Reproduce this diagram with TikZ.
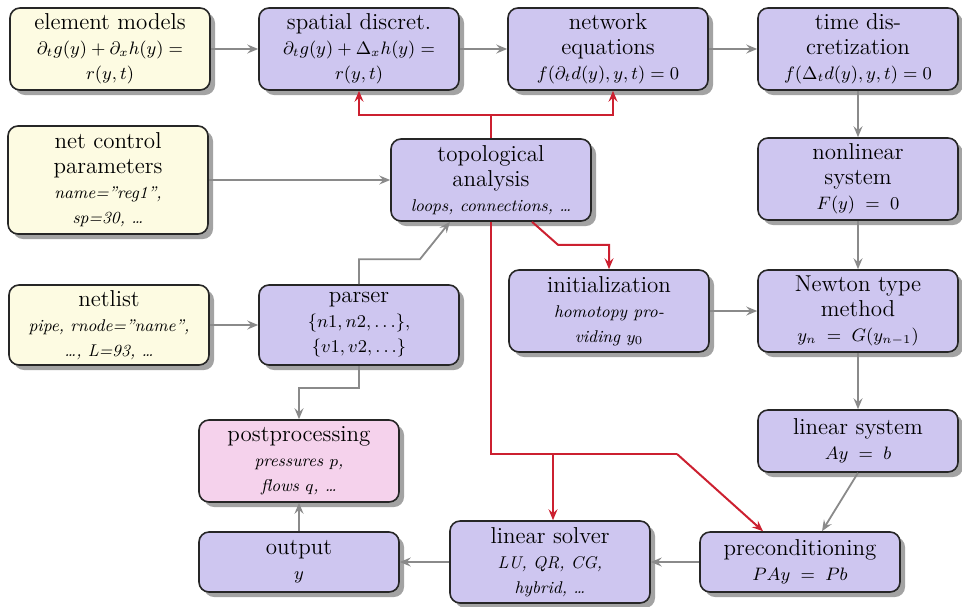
\documentclass[tikz,border=0pt]{standalone}
\usetikzlibrary{arrows.meta,shadows}
\definecolor{inyellow}{RGB}{253,251,226}
\definecolor{boxlilac}{RGB}{206,198,240}
\definecolor{boxpink}{RGB}{245,210,236}
\definecolor{flowred}{RGB}{204,32,48}
\definecolor{flowgray}{RGB}{138,138,138}
\newcommand{\mline}[1]{{\fontsize{9}{12.5}\selectfont$#1$}}
\newcommand{\iline}[1]{{\fontsize{8.5}{12.5}\selectfont\itshape #1}}
\tikzset{
  box/.style={draw=black!85, line width=0.8pt, rounded corners=5pt, align=center,
    minimum width=100pt, minimum height=41pt, inner sep=2pt,
    font=\fontsize{11.5}{12.5}\selectfont,
    drop shadow={shadow xshift=2.5pt, shadow yshift=-2.5pt, fill=black!45, opacity=0.8}},
  inbox/.style={box, fill=inyellow},
  stepbox/.style={box, fill=boxlilac},
  outbox/.style={box, fill=boxpink},
  tip/.style={-{Stealth[length=5.5pt,width=4.5pt,inset=2pt]}}
}
\begin{document}
\begin{tikzpicture}[x=0.5pt, y=-0.5pt]
      \useasboundingbox (0,0) rectangle (962,606);
      \path
        (110,49) node[inbox] (elem) {element models\\ \mline{\partial_t g(y) + \partial_x h(y) =}\\ \mline{r(y,t)}}
        (359,49) node[stepbox] (spatial) {spatial discret.\\ \mline{\partial_t g(y) + \Delta_x h(y) =}\\ \mline{r(y,t)}}
        (608,49) node[stepbox] (network) {network\\ equations\\ \mline{f(\partial_t d(y), y, t) = 0}}
        (858,49) node[stepbox] (time) {time dis-\\ cretization\\ \mline{f(\Delta_t d(y), y, t) = 0}}
        (108,180) node[inbox, minimum height=54pt] (netctrl) {net control\\ parameters\\ \iline{name="reg1",}\\ \iline{sp=30, \dots}}
        (491,180) node[stepbox] (topo) {topological\\ analysis\\ \iline{loops, connections, \dots}}
        (858,179) node[stepbox] (nonlin) {nonlinear\\ system\\ \mline{F(y) \;=\; 0}}
        (109,325) node[inbox, minimum height=40pt] (netlist) {netlist\\ \iline{pipe, rnode="name",}\\ \iline{\dots, L=93, \dots}}
        (359,325) node[stepbox, minimum height=40pt] (parser) {parser\\ \mline{\{n1, n2, \dots\},}\\ \mline{\{v1, v2, \dots\}}}
        (609,311) node[stepbox] (init) {initialization\\ \iline{homotopy pro-}\\ \iline{viding $y_0$}}
        (858,311) node[stepbox] (newton) {Newton type\\ method\\ \mline{y_n \;=\; G(y_{n-1})}}
        (858,441) node[stepbox, minimum height=31pt] (linsys) {linear system\\ \mline{Ay \;=\; b}}
        (299,461) node[outbox] (post) {postprocessing\\ \iline{pressures $p$,}\\ \iline{flows $q$, \dots}}
        (299,562) node[stepbox, minimum height=30pt] (output) {output\\ \mline{y}}
        (550,562) node[stepbox] (solver) {linear solver\\ \iline{LU, QR, CG,}\\ \iline{hybrid, \dots}}
        (800,562) node[stepbox, minimum height=30pt] (precond) {preconditioning\\ \mline{PAy \;=\; Pb}};
      \begin{scope}[draw=flowgray, line width=0.9pt, tip]
        \draw (elem) -- (spatial);
        \draw (spatial) -- (network);
        \draw (network) -- (time);
        \draw (time) -- (nonlin);
        \draw (nonlin) -- (newton);
        \draw (newton) -- (linsys);
        \draw (linsys.south) -- ([xshift=11pt]precond.north);
        \draw (precond) -- (solver);
        \draw (solver) -- (output);
        \draw (output) -- (post);
        \draw (netctrl) -- (topo);
        \draw (netlist) -- (parser);
        \draw (init) -- (newton);
        \draw (parser.north) -- ++(0,-25) -- ++(61,0) -- ([xshift=-20.5pt]topo.south);
        \draw (parser.south) -- ++(0,22) -| (post.north);
      \end{scope}
      \begin{scope}[draw=flowred, line width=1pt, tip]
        \draw[-] (topo.north) -- ++(0,-23) coordinate (rtop);
        \draw (rtop) -| (spatial.south);
        \draw (rtop) -| ([xshift=2.5pt]network.south);
        \draw ([xshift=20.5pt]topo.south) -- ++(26,23) -| (init.north);
        \draw[-] (topo.south) |- (677,454) coordinate (rbend);
        \draw (rbend) -- ([xshift=-18.5pt]precond.north);
        \path (553,454) coordinate (rbranch);
        \draw (rbranch) -- (rbranch |- solver.north);
      \end{scope}
    \end{tikzpicture}
\end{document}
